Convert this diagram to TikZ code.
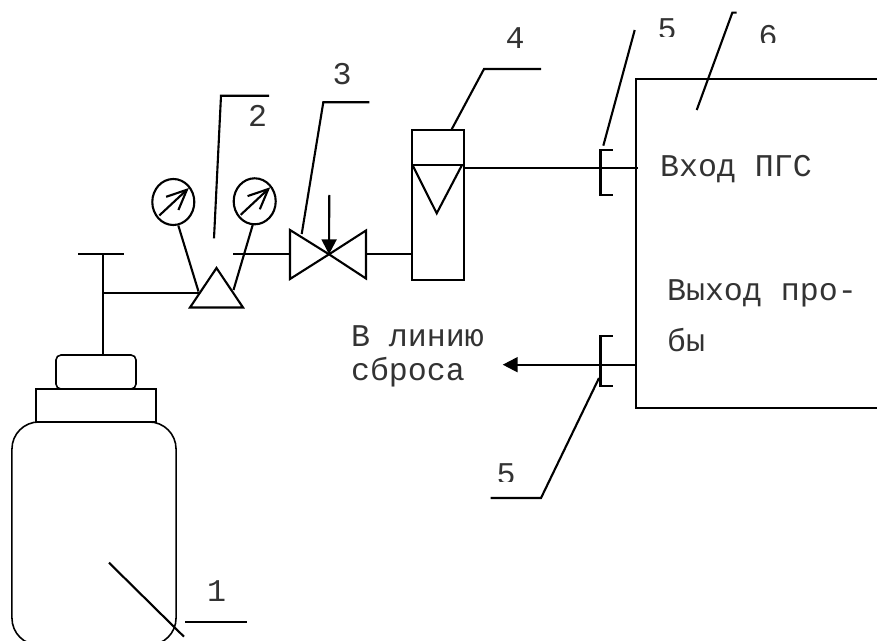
\documentclass[tikz,border=0pt]{standalone}
\usepackage{fontspec}
\setmainfont{Liberation Mono}
\usetikzlibrary{arrows.meta}
\usetikzlibrary{shapes.geometric}

\tikzset{
  pipe/.style={line width=0.6pt},
  part/.style={draw,line width=0.45pt,inner sep=0pt,outer sep=0pt},
  heavy/.style={part,line width=0.6pt},
  gauge/.style={heavy,ellipse,minimum width=0.42cm,minimum height=0.46cm},
  lbl/.style={inner sep=0pt,outer sep=0pt,anchor=base west,text=black!80,font=\fontsize{9}{9}\selectfont},
  num/.style={lbl,anchor=base},
  solidtip/.style={-{Triangle[length=0.15cm,width=0.15cm]}},
  needle/.style={pipe,-{Straight Barb[length=0.2cm,width=0.18cm]}}
}

\begin{document}
\begin{tikzpicture}[x=0.01cm,y=-0.01cm]
    \useasboundingbox (0,0) rectangle (877,640);
    % Cylinder
    \node[part,rounded corners=0.27cm,minimum width=1.64cm,minimum height=2.23cm] (bottle) at (94,533.5) {};%
    \node[part,minimum width=1.2cm,minimum height=0.33cm] (collar) at (96,405.5) {};%
    \node[part,rounded corners=0.05cm,minimum width=0.8cm,minimum height=0.34cm] (cap) at (96,372) {};%

    % Stem with handle
    \coordinate (stemtop) at (103,254);%
    \coordinate (handleL) at (78,254);%
    \coordinate (handleR) at (124,254);%
    \coordinate (branch) at (103,293);%
    \draw[part] (stemtop) -- (stemtop |- cap.north);%
    \draw[pipe] (handleL) -- (handleR);%

    % Reducer
    \coordinate (redA) at (216.5,268);%
    \coordinate (redB) at (190,307.5);%
    \coordinate (redC) at (243,307.5);%
    \coordinate (redIn) at (199,293);%
    \coordinate (redL) at (198.5,291.5);%
    \coordinate (redR) at (233.5,290);%
    \coordinate (redOut) at (233,254.3);%
    \draw[heavy] (redA) -- (redB) -- (redC) -- cycle;%
    \draw[pipe] (branch) -- (redIn);%

    % Gauges
    \foreach \n/\x/\y in {L/173.3/202,R/254.7/201.3} {
      \node[gauge] (gauge\n) at (\x,\y) {};%
      \coordinate (tail\n) at (\x-14,\y+13.5);%
      \coordinate (tip\n) at (\x+15.5,\y-14);%
      \draw[needle] (tail\n) -- (tip\n);%
    }
    \coordinate (stemL) at (178.3,225.5);%
    \coordinate (stemR) at (252.7,225);%
    \draw[pipe] (stemL) -- (redL);%
    \draw[pipe] (stemR) -- (redR);%

    % Valve
    \coordinate (valveC) at (329,254.3);%
    \coordinate (valveL) at (290,254.3);%
    \coordinate (valveR) at (366,254.3);%
    \coordinate (valveT) at (329.3,195);%
    \draw[heavy] (valveC) -- (290,230) -- (290,279) -- cycle;%
    \draw[heavy] (valveC) -- (366,230.5) -- (366,278.5) -- cycle;%
    \draw[pipe,solidtip] (valveT) -- (valveC);%
    \draw[pipe] (redOut) -- (valveL);%

    % Flowmeter
    \node[heavy,minimum width=0.525cm,minimum height=1.5cm] (meter) at (438,205) {};%
    \coordinate (floatL) at (412.5,165);%
    \coordinate (floatR) at (462,165);%
    \coordinate (floatB) at (436.7,213.3);%
    \draw[pipe] (meter.west |- floatL) -- (meter.east |- floatR);%
    \draw[pipe] (floatL) -- (floatB) -- (floatR);%
    \draw[pipe] (valveR) -- (meter.west |- valveR);%

    % Analyser
    \node[part,anchor=north west,minimum width=2.6cm,minimum height=3.29cm] (box) at (636,79) {};%
    \coordinate (inA) at (464,167.7);%
    \coordinate (inB) at (638,167.7);%
    \coordinate (outA) at (636,364.7);%
    \coordinate (outB) at (502.7,364.7);%
    \draw[pipe] (inA) -- (inB);%
    \draw[pipe,solidtip] (outA) -- (outB);%

    % Fittings
    \draw[pipe] (612.5,150) -- (600.5,150) -- (600.5,195) -- (612.5,195);%
    \draw[pipe] (612.5,335.7) -- (600.5,335.7) -- (600.5,386) -- (612.5,386);%

    % Leaders
    \draw[pipe] (109,562.7) -- (184,636.7);%
    \draw[pipe] (185.3,621.7) -- (247.3,621.7);%
    \draw[pipe] (214,238.3) -- (221,95.7) -- (269,95.7);%
    \draw[pipe] (301.7,234) -- (323.3,102.3) -- (369.3,102.3);%
    \draw[pipe] (451.7,129.3) -- (484,69) -- (541,69);%
    \draw[pipe] (603.3,145.7) -- (634.7,30);%
    \draw[pipe] (696.7,110) -- (732.3,12.7) -- (736.7,12.7);%
    \draw[pipe] (599,378) -- (541,498) -- (490.7,498);%

    % Numbers
    \node[num] (n1) at (216.7,601.7) {1};%
    \node[num] (n2) at (257.7,126.7) {2};%
    \node[num] (n3) at (342,85) {3};%
    \node[num] (n4) at (515,49) {4};%
    \begin{scope}
      \clip (640,0) rectangle (800,36.5);%
      \node[num] (n5a) at (667,39.5) {5};%
    \end{scope}
    \begin{scope}
      \clip (740,0) rectangle (800,42.7);%
      \node[num] (n6) at (768,46.5) {6};%
    \end{scope}
    \begin{scope}
      \clip (480,450) rectangle (530,481.7);%
      \node[num] (n5b) at (506,484.5) {5};%
    \end{scope}

    % Labels
    \node[lbl] (inlet) at (660,176) {Вход ПГС};%
    \node[lbl] (outlet) at (667,300) {Выход про-};%
    \node[lbl] (outletb) at (667,351.7) {бы};%
    \node[lbl] (dump) at (351,346.7) {В линию};%
    \node[lbl] (dumpb) at (351,380) {сброса};%
\end{tikzpicture}
\end{document}
